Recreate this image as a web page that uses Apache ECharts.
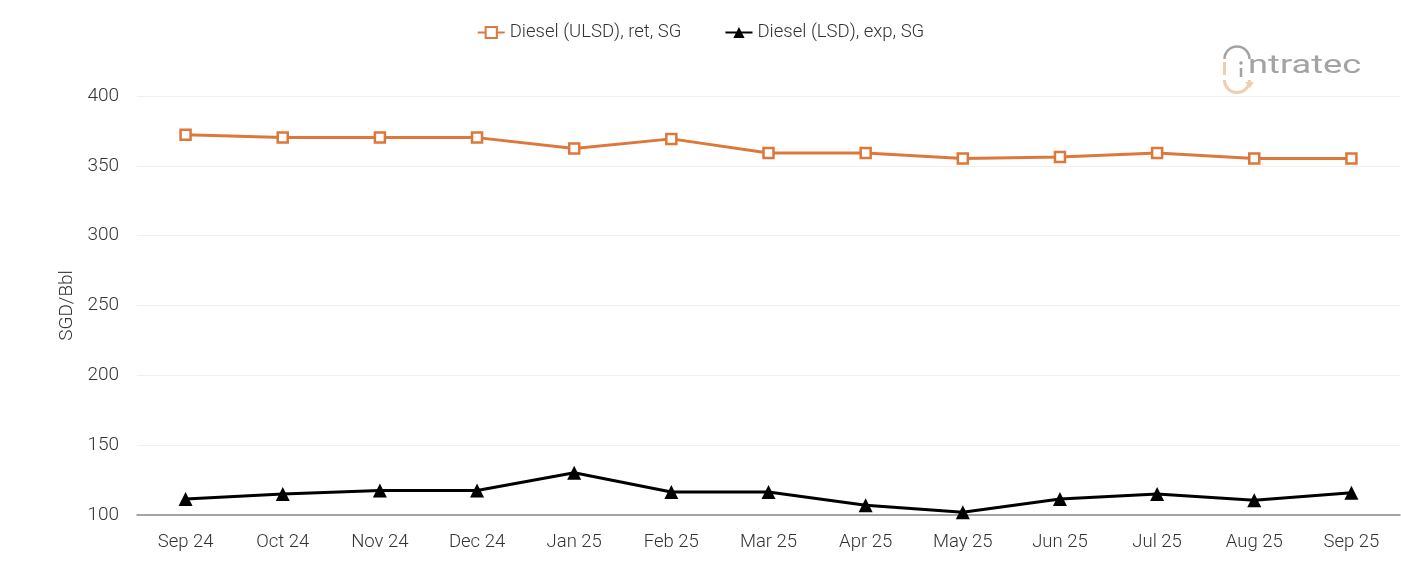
<!DOCTYPE html>
<html><head><meta charset="utf-8">
<script src="https://cdn.jsdelivr.net/npm/echarts@6/dist/echarts.min.js"></script>
<style>html,body{margin:0;padding:0;background:#fff}#c{width:1401px;height:561px}</style>
</head><body><div id="c"></div>
<script>
const categories = ['Sep 24','Oct 24','Nov 24','Dec 24','Jan 25','Feb 25','Mar 25','Apr 25','May 25','Jun 25','Jul 25','Aug 25','Sep 25'];
const ulsdRet = [372.3, 370.3, 370.2, 370.2, 362.4, 369.3, 359.2, 359.2, 355.3, 356.3, 359.2, 355.3, 355.3];
const lsdExp = [111.5, 115, 117.5, 117.5, 130.3, 116.5, 116.5, 107, 102, 111.5, 115, 110.5, 116];
const yTicks = {min: 100, max: 400, interval: 50};
const seriesNames = ['Diesel (ULSD), ret, SG', 'Diesel (LSD), exp, SG'];

const chart = echarts.init(document.getElementById('c'));
const gray = '#a3a3a3', peach = '#EFCDAE';
chart.setOption({
  backgroundColor: '#fff',
  textStyle: {fontFamily: 'Roboto'},
  animation: false,
  legend: {
    top: 18, left: 'center', itemGap: 43, itemWidth: 27, itemHeight: 14,
    textStyle: {fontSize: 18.5, color: '#333', fontFamily: 'Roboto', fontWeight: 300},
    data: seriesNames
  },
  grid: {left: 137, right: 1, top: 96, bottom: 46},
  xAxis: {
    type: 'category', data: categories, boundaryGap: true,
    axisLine: {lineStyle: {color: '#888', width: 1.5}},
    axisTick: {show: false},
    axisLabel: {fontSize: 18.5, color: '#333', margin: 18, fontWeight: 300}
  },
  yAxis: {
    type: 'value', min: yTicks.min, max: yTicks.max, interval: yTicks.interval,
    name: 'SGD/Bbl', nameLocation: 'middle', nameGap: 58,
    nameTextStyle: {fontSize: 19, color: '#333', fontWeight: 300},
    axisLine: {show: false}, axisTick: {show: false},
    axisLabel: {fontSize: 19, color: '#333', margin: 18, fontWeight: 300},
    splitLine: {lineStyle: {color: '#f0f0f0', width: 1}}
  },
  series: [
    {name: seriesNames[0], type: 'line', data: ulsdRet, symbol: 'rect', symbolSize: 10,
     lineStyle: {color: '#DD773A', width: 3}, itemStyle: {color: '#fff', borderColor: '#DD773A', borderWidth: 2.5}},
    {name: seriesNames[1], type: 'line', data: lsdExp, symbol: 'triangle', symbolSize: 14,
     lineStyle: {color: '#000', width: 3}, itemStyle: {color: '#000'}}
  ],
  graphic: [
    {type: 'text', x: 1248, y: 54, scaleX: 1.45, style: {text: 'ntratec', fontSize: 25, fontFamily: 'Roboto', fill: gray, fontWeight: 400}},
    {type: 'arc', shape: {cx: 1237, cy: 59, r: 12.5, startAngle: Math.PI, endAngle: 2 * Math.PI}, style: {stroke: gray, lineWidth: 2.5, fill: null}},
    {type: 'line', shape: {x1: 1224.5, y1: 62, x2: 1224.5, y2: 75}, style: {stroke: peach, lineWidth: 3}},
    {type: 'circle', shape: {cx: 1241, cy: 63, r: 1.8}, style: {fill: gray}},
    {type: 'line', shape: {x1: 1241, y1: 68, x2: 1241, y2: 77}, style: {stroke: gray, lineWidth: 2.5}},
    {type: 'arc', shape: {cx: 1237, cy: 80, r: 12.5, startAngle: 0, endAngle: Math.PI}, style: {stroke: peach, lineWidth: 3, fill: null}},
    {type: 'polygon', shape: {points: [[1245, 82], [1254, 82], [1250, 88]]}, style: {fill: peach}}
  ]
});
</script></body></html>
